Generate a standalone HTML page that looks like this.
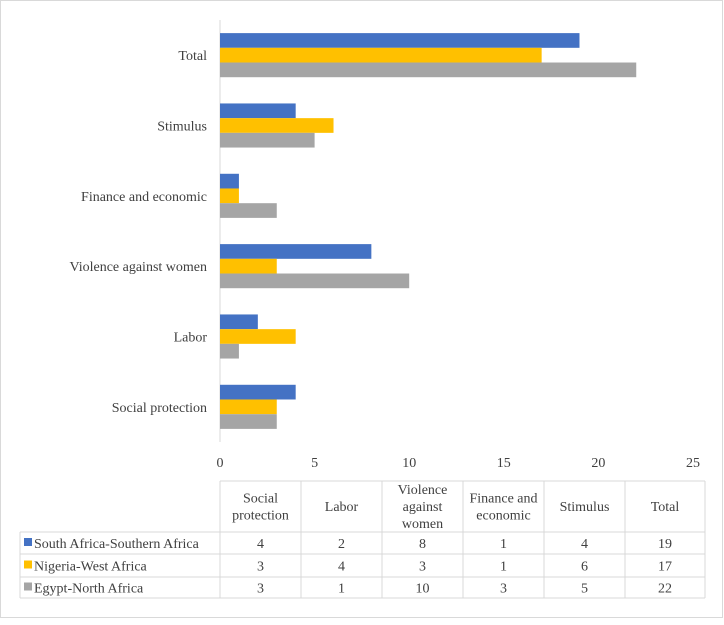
<!DOCTYPE html>
<html><head><meta charset="utf-8"><style>
body{margin:0;background:#fff;font-family:"Liberation Serif",serif;}
svg text{font-family:"Liberation Serif",serif;fill:#404040;}
</style></head><body>
<svg width="724" height="620">
<rect x="0.5" y="0.5" width="722" height="617" fill="#fff" stroke="#d9d9d9"/>
<g id="g"></g>
</svg>
<script>
const categories=["Social protection","Labor","Violence against women","Finance and economic","Stimulus","Total"];
const headerLines=[["Social","protection"],["Labor"],["Violence","against","women"],["Finance and","economic"],["Stimulus"],["Total"]];
const seriesNames=["South Africa-Southern Africa","Nigeria-West Africa","Egypt-North Africa"];
const southAfrica=[4,2,8,1,4,19];
const nigeria=[3,4,3,1,6,17];
const egypt=[3,1,10,3,5,22];
const ticks=[0,5,10,15,20,25];
const colors=["#4472c4","#ffc000","#a5a5a5"];
const series=[southAfrica,nigeria,egypt];
const NS="http://www.w3.org/2000/svg",gEl=document.getElementById('g');
const FS=14;
function el(t,a){const e=document.createElementNS(NS,t);for(const k in a)e.setAttribute(k,a[k]);gEl.appendChild(e);return e;}
const x0=220,x1=693,xs=v=>x0+(x1-x0)*v/25;
const plotTop=20,plotBottom=442,band=(plotBottom-plotTop)/categories.length;
const yc=i=>plotBottom-band*(i+0.5);
let ax=el('line',{x1:x0,x2:x0,y1:plotTop,y2:plotBottom,stroke:'#d9d9d9'});


ticks.forEach(t=>{let tx=el('text',{x:xs(t),y:467,'text-anchor':'middle','font-size':FS});tx.textContent=t;

});
categories.forEach((c,i)=>{
 let tx=el('text',{x:207,y:yc(i)+5,'text-anchor':'end','font-size':FS});tx.textContent=c;
 
 
 series.forEach((s,j)=>{
  const h=14.7,y=yc(i)-1.5*h+j*h;
  let r=el('rect',{x:x0,y:y,width:xs(s[i])-x0,height:h,fill:colors[j]});
  
  
 });
});
const cols=[220,301,382,463,544,625,705],rows=[481,532,554,577,598];
const lc='#d9d9d9';
el('line',{x1:220,x2:705,y1:481,y2:481,stroke:lc});
rows.slice(1).forEach(y=>el('line',{x1:20,x2:705,y1:y,y2:y,stroke:lc}));
cols.forEach(x=>el('line',{x1:x,x2:x,y1:481,y2:598,stroke:lc}));
el('line',{x1:20,x2:20,y1:532,y2:598,stroke:lc});
headerLines.forEach((ls,i)=>{
 const cx=(cols[i]+cols[i+1])/2,start=506-(ls.length-1)*8.5+5;
 ls.forEach((l,k)=>{let t=el('text',{x:cx,y:start+k*17,'text-anchor':'middle','font-size':FS});t.textContent=l;
 
 });
});
series.forEach((s,j)=>{
 const ym=(rows[j+1]+rows[j+2])/2+5;
 let sw=el('rect',{x:24,y:ym-10,width:8,height:8,fill:colors[j]});
 
 
 let t=el('text',{x:34,y:ym,'font-size':FS});t.textContent=seriesNames[j];
 
 
 s.forEach((v,i)=>{let c=el('text',{x:(cols[i]+cols[i+1])/2,y:ym,'text-anchor':'middle','font-size':FS});c.textContent=v;
 
 });
});
</script>
</body></html>
